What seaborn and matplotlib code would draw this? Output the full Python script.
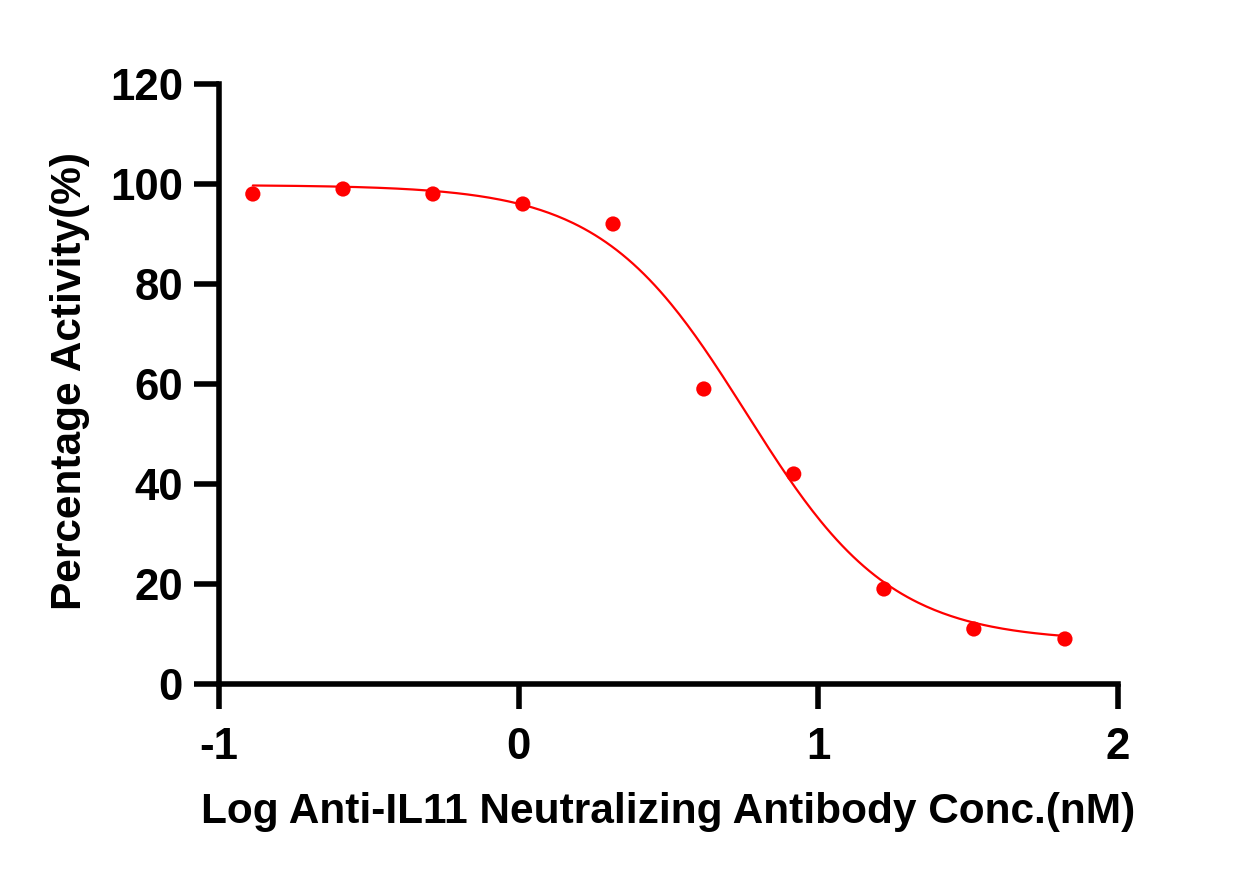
import numpy as np
import pandas as pd
import matplotlib
matplotlib.use("Agg")
import matplotlib.pyplot as plt
import seaborn as sns

# Data
log_conc = [-0.887, -0.586, -0.286, 0.014, 0.315, 0.618, 0.918, 1.219, 1.519, 1.823]
activity = [98, 99, 98, 96, 92, 59, 42, 19, 11, 9]

# 4PL fit parameters (estimated from the drawn curve)
fit_top = 99.8
fit_bottom = 8.5
fit_logic50 = 0.76
fit_hill = 1.8

x_ticks = [-1, 0, 1, 2]
y_ticks = [0, 20, 40, 60, 80, 100, 120]
x_label = "Log Anti-IL11 Neutralizing Antibody Conc.(nM)"
y_label = "Percentage Activity(%)"

sns.set_style("ticks")
plt.rcParams['font.family'] = ['Liberation Sans', 'DejaVu Sans']
plt.rcParams['font.weight'] = 'bold'
plt.rcParams['text.color'] = 'black'
plt.rcParams['axes.labelcolor'] = 'black'
plt.rcParams['xtick.color'] = 'black'
plt.rcParams['ytick.color'] = 'black'

fig = plt.figure(figsize=(12.57, 8.76), dpi=100)
ax = fig.add_axes([0.1742, 0.2192, 0.8894 - 0.1742, 0.9041 - 0.2192])

df = pd.DataFrame({"x": log_conc, "y": activity})
xs = np.linspace(min(log_conc), max(log_conc), 300)
ys = fit_bottom + (fit_top - fit_bottom) / (1 + 10 ** ((xs - fit_logic50) * fit_hill))
curve = pd.DataFrame({"x": xs, "y": ys})

sns.lineplot(data=curve, x="x", y="y", ax=ax, color="#ff0000", linewidth=1.6)
sns.scatterplot(data=df, x="x", y="y", ax=ax, color="#ff0000", s=120,
                edgecolor="none", zorder=3)

ax.set_xlim(-1, 2)
ax.set_ylim(0, 120)
ax.set_xticks(x_ticks)
ax.set_yticks(y_ticks)
ax.set_xticklabels([str(t) for t in x_ticks])
ax.set_yticklabels([str(t) for t in y_ticks])

for side in ["top", "right"]:
    ax.spines[side].set_visible(False)
for side in ["left", "bottom"]:
    ax.spines[side].set_linewidth(4)
    ax.spines[side].set_color("black")
    ax.spines[side].set_capstyle("projecting")

ax.tick_params(axis="both", width=4, length=18, labelsize=31.5, labelcolor="black", color="black")
ax.tick_params(axis="x", pad=13)
ax.tick_params(axis="y", pad=8)
for lab in ax.get_xticklabels() + ax.get_yticklabels():
    lab.set_fontweight("bold")

ax.set_xlabel(x_label, fontsize=30.5, fontweight="bold", color="black")
ax.set_ylabel(y_label, fontsize=30.5, fontweight="bold", color="black")
ax.xaxis.set_label_coords(0.5, -0.2317)
ax.xaxis.label.set_va("baseline")
ax.yaxis.set_label_coords(-0.1535, 0.505)
ax.yaxis.label.set_va("baseline")
ax.yaxis.label.set_rotation_mode("anchor")

fig.savefig("out.png", dpi=100)
